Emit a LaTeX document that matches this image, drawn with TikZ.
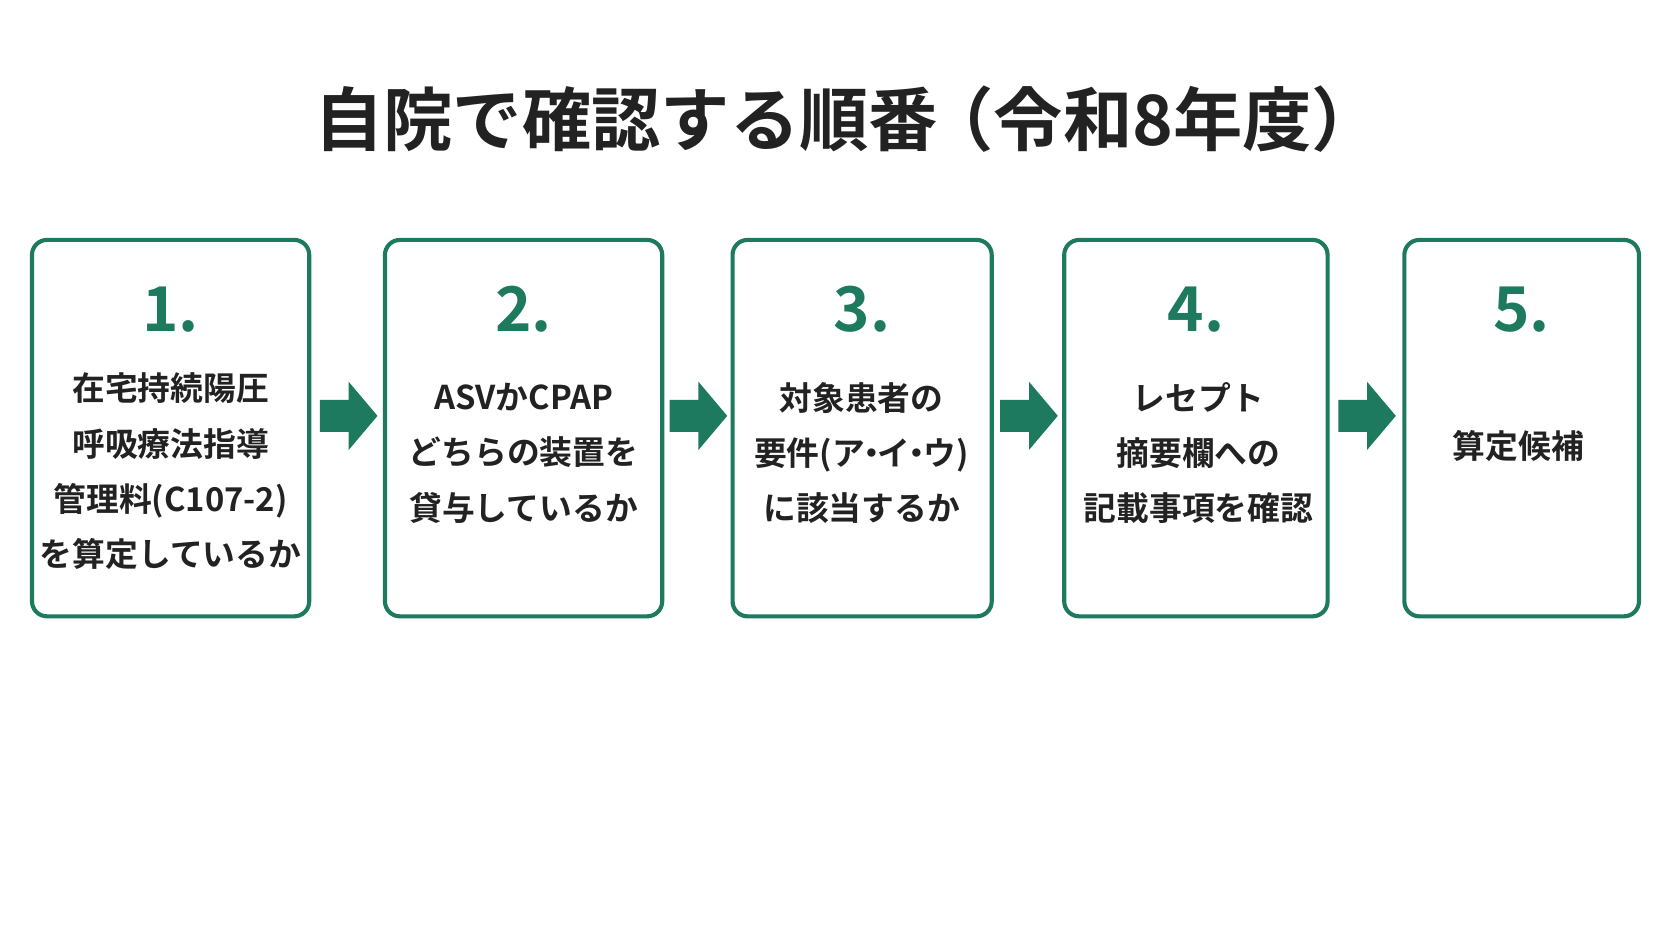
\documentclass[tikz,border=0pt]{standalone}
\usepackage{fontspec}
\newfontfamily\jp{Noto Sans CJK JP}[BoldFont={Noto Sans CJK JP Bold}]
\definecolor{grn}{HTML}{1E7A5E}
\definecolor{txt}{HTML}{222222}
\newcommand{\nd}{\kern-0.3em・\kern-0.3em}
\begin{document}
\begin{tikzpicture}[x=0.02cm,y=-0.02cm,
 box/.style={draw=grn,line width=2.2pt,rounded corners=8pt},
 num/.style={text=grn,font=\jp\bfseries\fontsize{33}{36}\selectfont},
 lbl/.style={text=txt,font=\jp\bfseries\fontsize{17.5}{29.5}\selectfont,align=center},
 arr/.style={fill=grn}]
\useasboundingbox (0,0) rectangle (1568,882);
\node[text=txt,font=\jp\bfseries\fontsize{37}{42}\selectfont] (title) at (795,112) {自院で確認する順番\kern-0.2em（令和8年度）};
\foreach \n/\a/\b in {1/30/290,2/361/621,3/687/930,4/998/1245,5/1317/1537}{
  \draw[box] (\a,225) rectangle (\b,578);
  \node[num] (n\n) at ({(\a+\b)/2},290) {\n.};
}
\node[lbl] (t1) at (160,442) {在宅持続陽圧\\呼吸療法指導\\管理料(C107-2)\\を算定しているか};
\node[lbl] (t2) at (491,425) {ASVかCPAP\\どちらの装置を\\貸与しているか};
\node[lbl] (t3) at (808,425) {対象患者の\\要件(ア\nd イ\nd ウ)\\に該当するか};
\node[lbl] (t4) at (1124,425) {レセプト\\摘要欄への\\記載事項を確認};
\node[lbl] (t5) at (1424,418) {算定候補};
\foreach \c/\k in {327/a,655/b,965/c,1282/d}{
  \fill[arr] (\c-27,375) -- (\c,375) -- (\c,358) -- (\c+27,390) -- (\c,422) -- (\c,405) -- (\c-27,405) -- cycle;
}
\end{tikzpicture}
\end{document}
